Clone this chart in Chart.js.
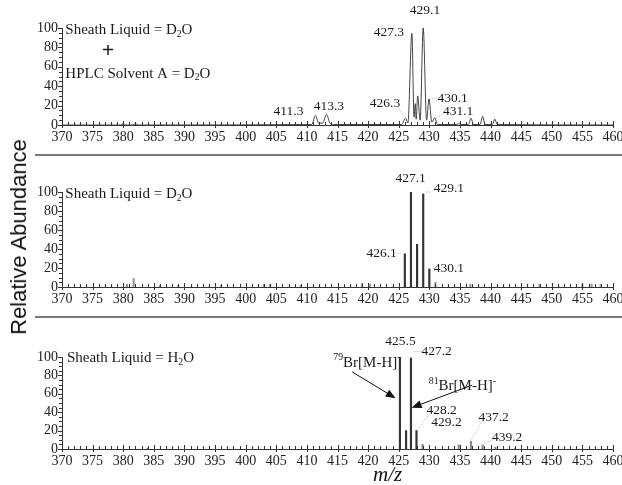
<!DOCTYPE html>
<html>
<head>
<meta charset="utf-8">
<script src="https://cdn.jsdelivr.net/npm/chart.js@4.4.1/dist/chart.umd.min.js"></script>
<style>
  html, body { margin: 0; padding: 0; background: #fff; }
  body { width: 622px; height: 485px; position: relative; overflow: hidden; }
  canvas { position: absolute; left: 0; }
  .sep { position: absolute; left: 35px; width: 587px; height: 2px; background: #777; }
  #ylab { position: absolute; left: 19px; top: 237px; transform: translate(-50%, -50%) rotate(-90deg);
          font: 22px "Liberation Sans", Arial, sans-serif; white-space: nowrap; color: #111; }
  #xlab { position: absolute; left: 373px; top: 464px; font: italic 21px "Liberation Serif", serif;
          line-height: 21px; color: #111; }
</style>
</head>
<body>
<canvas id="spec1" width="622" height="150" style="top:0"></canvas>
<div class="sep" style="top:154px"></div>
<canvas id="spec2" width="622" height="150" style="top:160px"></canvas>
<div class="sep" style="top:316px"></div>
<canvas id="spec3" width="622" height="165" style="top:320px"></canvas>
<div id="ylab">Relative Abundance</div>
<div id="xlab">m/z</div>
<script>
// top panel: profile scan, sheath liquid D2O + HPLC solvent A D2O
const profileMz = [370, 379.6, 380.0, 380.4, 381.6, 382.0, 382.4, 410.8, 411.4, 411.9, 412.6, 413.2,
  413.8, 414.3, 425.5, 426.1, 426.5, 427.15, 427.5, 427.7, 427.85, 428.1, 428.5, 429.0, 429.55,
  429.95, 430.4, 430.9, 431.3, 434.5, 434.8, 435.1, 436.4, 436.8, 437.2, 438.3, 438.7, 439.1,
  440.3, 440.7, 441.1, 460];
const profileAb = [0, 0, 1.5, 0, 0, 1.5, 0, 0.5, 10, 2, 2, 11, 1.5, 0.5, 0.5, 7, 2, 94.5, 8, 22,
  6, 30, 5, 100, 5, 27, 3, 7.5, 0.5, 0.5, 1.5, 0.5, 0.5, 7, 0.5, 0.5, 9, 0.5, 0.5, 6, 0.5, 0];

// middle panel: centroid sticks, sheath liquid D2O
const sticksMz2 = [380.6, 381.7, 386.0, 389.0, 396.0, 403.0, 404.0, 409.0, 419.0, 420.3, 426.0,
  427.0, 428.0, 429.0, 430.0, 431.0, 436.7, 448.0, 455.0, 456.5, 458.0];
const sticksAb2 = [3, 9, 2, 2, 2, 3, 3, 2, 4, 3, 35, 100, 45, 98, 19, 5, 3, 3, 3, 3, 3];

// bottom panel: centroid sticks, sheath liquid H2O
const sticksMz3 = [384.0, 425.2, 426.2, 427.0, 427.9, 428.9, 434.8, 436.8, 438.7, 440.8, 444.0];
const sticksAb3 = [1, 100, 20, 99, 20, 5, 4.5, 8.5, 4.5, 2, 1];

const mzTicks = { min: 370, max: 460, step: 5 };
const abTicks = { min: 0, max: 100, step: 20 };

const serif = '"Liberation Serif", "Times New Roman", serif';

// ticks drawn like the instrument plot (minor every 1 m/z, every 5 %)
const axisTicks = {
  id: 'axisTicks',
  afterDraw(chart) {
    const { ctx, scales: { x, y } } = chart;
    ctx.save();
    ctx.strokeStyle = '#333';
    ctx.lineWidth = 1;
    ctx.beginPath();
    for (let v = mzTicks.min; v <= mzTicks.max; v++) {
      const px = Math.round(x.getPixelForValue(v)) + 0.5;
      const major = v % 5 === 0;
      ctx.moveTo(px, y.bottom - (major ? 4 : 3));
      ctx.lineTo(px, y.bottom + (major ? 3 : 1));
    }
    for (let v = abTicks.min; v <= abTicks.max; v += 5) {
      const py = Math.round(y.getPixelForValue(v)) + 0.5;
      ctx.moveTo(x.left - (v % 20 === 0 ? 4 : 3), py);
      ctx.lineTo(x.left, py);
    }
    ctx.stroke();
    ctx.restore();
  }
};

// text with _{sub} and ^{sup} parts
function drawRich(ctx, str, px, py, size, align, weight) {
  const parts = str.split(/(_\{[^}]*\}|\^\{[^}]*\})/).filter(s => s.length);
  const items = parts.map(p => {
    if (p.startsWith('_{')) return { t: p.slice(2, -1), s: size * 0.65, dy: size * 0.28 };
    if (p.startsWith('^{')) return { t: p.slice(2, -1), s: size * 0.65, dy: -size * 0.33 };
    return { t: p, s: size, dy: 0 };
  });
  let w = 0;
  items.forEach(it => {
    ctx.font = (weight || '') + ' ' + it.s + 'px ' + serif;
    it.w = ctx.measureText(it.t).width;
    w += it.w;
  });
  let cx = align === 'left' ? px : px - w / 2;
  ctx.textBaseline = 'middle';
  ctx.textAlign = 'left';
  items.forEach(it => {
    ctx.font = (weight || '') + ' ' + it.s + 'px ' + serif;
    ctx.fillText(it.t, cx, py + it.dy);
    cx += it.w;
  });
}

const notesPlugin = {
  id: 'notes',
  afterDatasetsDraw(chart, args, opts) {
    const { ctx, scales: { x, y } } = chart;
    ctx.save();
    (opts.leaders || []).forEach(l => {
      ctx.strokeStyle = '#bbb';
      ctx.lineWidth = 1;
      ctx.setLineDash([1, 1]);
      ctx.beginPath();
      ctx.moveTo(x.getPixelForValue(l[0]), y.getPixelForValue(l[1]));
      ctx.lineTo(x.getPixelForValue(l[2]), y.getPixelForValue(l[3]));
      ctx.stroke();
    });
    ctx.setLineDash([]);
    (opts.arrows || []).forEach(a => {
      const x1 = x.getPixelForValue(a[0]), y1 = y.getPixelForValue(a[1]);
      const x2 = x.getPixelForValue(a[2]), y2 = y.getPixelForValue(a[3]);
      const ang = Math.atan2(y2 - y1, x2 - x1);
      ctx.strokeStyle = '#111';
      ctx.fillStyle = '#111';
      ctx.lineWidth = 1;
      ctx.beginPath();
      ctx.moveTo(x1, y1);
      ctx.lineTo(x2 - 8 * Math.cos(ang), y2 - 8 * Math.sin(ang));
      ctx.stroke();
      ctx.beginPath();
      ctx.moveTo(x2, y2);
      ctx.lineTo(x2 - 10 * Math.cos(ang) + 4 * Math.sin(ang), y2 - 10 * Math.sin(ang) - 4 * Math.cos(ang));
      ctx.lineTo(x2 - 10 * Math.cos(ang) - 4 * Math.sin(ang), y2 - 10 * Math.sin(ang) + 4 * Math.cos(ang));
      ctx.closePath();
      ctx.fill();
    });
    ctx.fillStyle = '#1a1a1a';
    (opts.texts || []).forEach(t => {
      drawRich(ctx, t.text, x.getPixelForValue(t.x), y.getPixelForValue(t.y), t.size || 13.5, t.align || 'center', t.weight);
    });
    ctx.restore();
  }
};

function spectrumChart(id, type, dataset, topPad, axisH, notes) {
  return new Chart(id, {
    type: type,
    data: { datasets: [dataset] },
    options: {
      responsive: false,
      animation: false,
      layout: { padding: { top: topPad, right: 9, left: 0, bottom: 0 } },
      plugins: { legend: { display: false }, tooltip: { enabled: false }, notes: notes },
      scales: {
        x: {
          type: 'linear', min: mzTicks.min, max: mzTicks.max, offset: false,
          grid: { display: false, drawTicks: false },
          border: { display: true, color: '#333' },
          ticks: { stepSize: mzTicks.step, padding: 4, color: '#222', autoSkip: false, maxRotation: 0,
                   font: { family: serif, size: 14 } },
          afterFit: s => { s.height = axisH; s.paddingLeft = 0; s.paddingRight = 0; }
        },
        y: {
          min: abTicks.min, max: abTicks.max,
          grid: { display: false, drawTicks: false },
          border: { display: true, color: '#333' },
          ticks: { stepSize: abTicks.step, padding: 4, color: '#222', autoSkip: false,
                   font: { family: serif, size: 14 } },
          afterFit: s => { s.width = 62; }
        }
      }
    },
    plugins: [axisTicks, notesPlugin]
  });
}

spectrumChart('spec1', 'line', {
  data: profileMz.map((m, i) => ({ x: m, y: profileAb[i] })),
  borderColor: '#444', borderWidth: 1, pointRadius: 0, fill: false,
  cubicInterpolationMode: 'monotone', clip: 3
}, 28, 25, {
  texts: [
    { text: 'Sheath Liquid = D_{2}O', x: 370.55, y: 98.2, size: 15, align: 'left' },
    { text: '+', x: 377.5, y: 75.6, size: 22, weight: 'bold' },
    { text: 'HPLC Solvent A = D_{2}O', x: 370.55, y: 53, size: 15, align: 'left' },
    { text: '411.3', x: 407.0, y: 13.9 },
    { text: '413.3', x: 413.6, y: 19 },
    { text: '426.3', x: 422.75, y: 22 },
    { text: '427.3', x: 423.4, y: 95.7 },
    { text: '429.1', x: 429.3, y: 117.8 },
    { text: '430.1', x: 433.8, y: 27.3 },
    { text: '431.1', x: 434.7, y: 14.4 }
  ],
  leaders: [[424.9, 18, 426.0, 7], [430.4, 27, 431.4, 28], [431.3, 8, 432.4, 12]]
});

spectrumChart('spec2', 'bar', {
  data: sticksMz2.map((m, i) => ({ x: m, y: sticksAb2[i] })),
  backgroundColor: c => (c.raw && c.raw.y > 10 ? '#333' : '#999'),
  barThickness: 1.5, borderWidth: 0
}, 32, 23, {
  texts: [
    { text: 'Sheath Liquid = D_{2}O', x: 370.55, y: 97.9, size: 15, align: 'left' },
    { text: '427.1', x: 426.95, y: 114.4 },
    { text: '429.1', x: 433.2, y: 103.9 },
    { text: '426.1', x: 422.2, y: 35.5 },
    { text: '430.1', x: 433.2, y: 19.7 }
  ],
  leaders: [[429.3, 100, 430.2, 100], [424.6, 35.5, 425.6, 35.5], [430.4, 19.7, 431.0, 19.7]]
});

spectrumChart('spec3', 'bar', {
  data: sticksMz3.map((m, i) => ({ x: m, y: sticksAb3[i] })),
  backgroundColor: c => (c.raw && c.raw.y > 10 ? '#333' : '#888'),
  barThickness: 1.5, borderWidth: 0
}, 37, 36, {
  texts: [
    { text: 'Sheath Liquid = H_{2}O', x: 370.8, y: 99, size: 15, align: 'left' },
    { text: '425.5', x: 425.3, y: 117 },
    { text: '427.2', x: 431.2, y: 106.2 },
    { text: '^{79}Br[M-H]^{-}', x: 419.8, y: 93.7, size: 15 },
    { text: '^{81}Br[M-H]^{-}', x: 435.4, y: 68.6, size: 15 },
    { text: '428.2', x: 432.0, y: 42.4 },
    { text: '429.2', x: 432.8, y: 28.9 },
    { text: '437.2', x: 440.5, y: 34.3 },
    { text: '439.2', x: 442.7, y: 12.7 }
  ],
  arrows: [[417.4, 83.8, 424.5, 55.1], [437.0, 69.4, 427.1, 44.9]],
  leaders: [[427.4, 106, 429.0, 106], [428.1, 21, 430.0, 38], [436.9, 10, 438.6, 30], [439.0, 6, 440.6, 11]]
});
</script>
</body>
</html>
